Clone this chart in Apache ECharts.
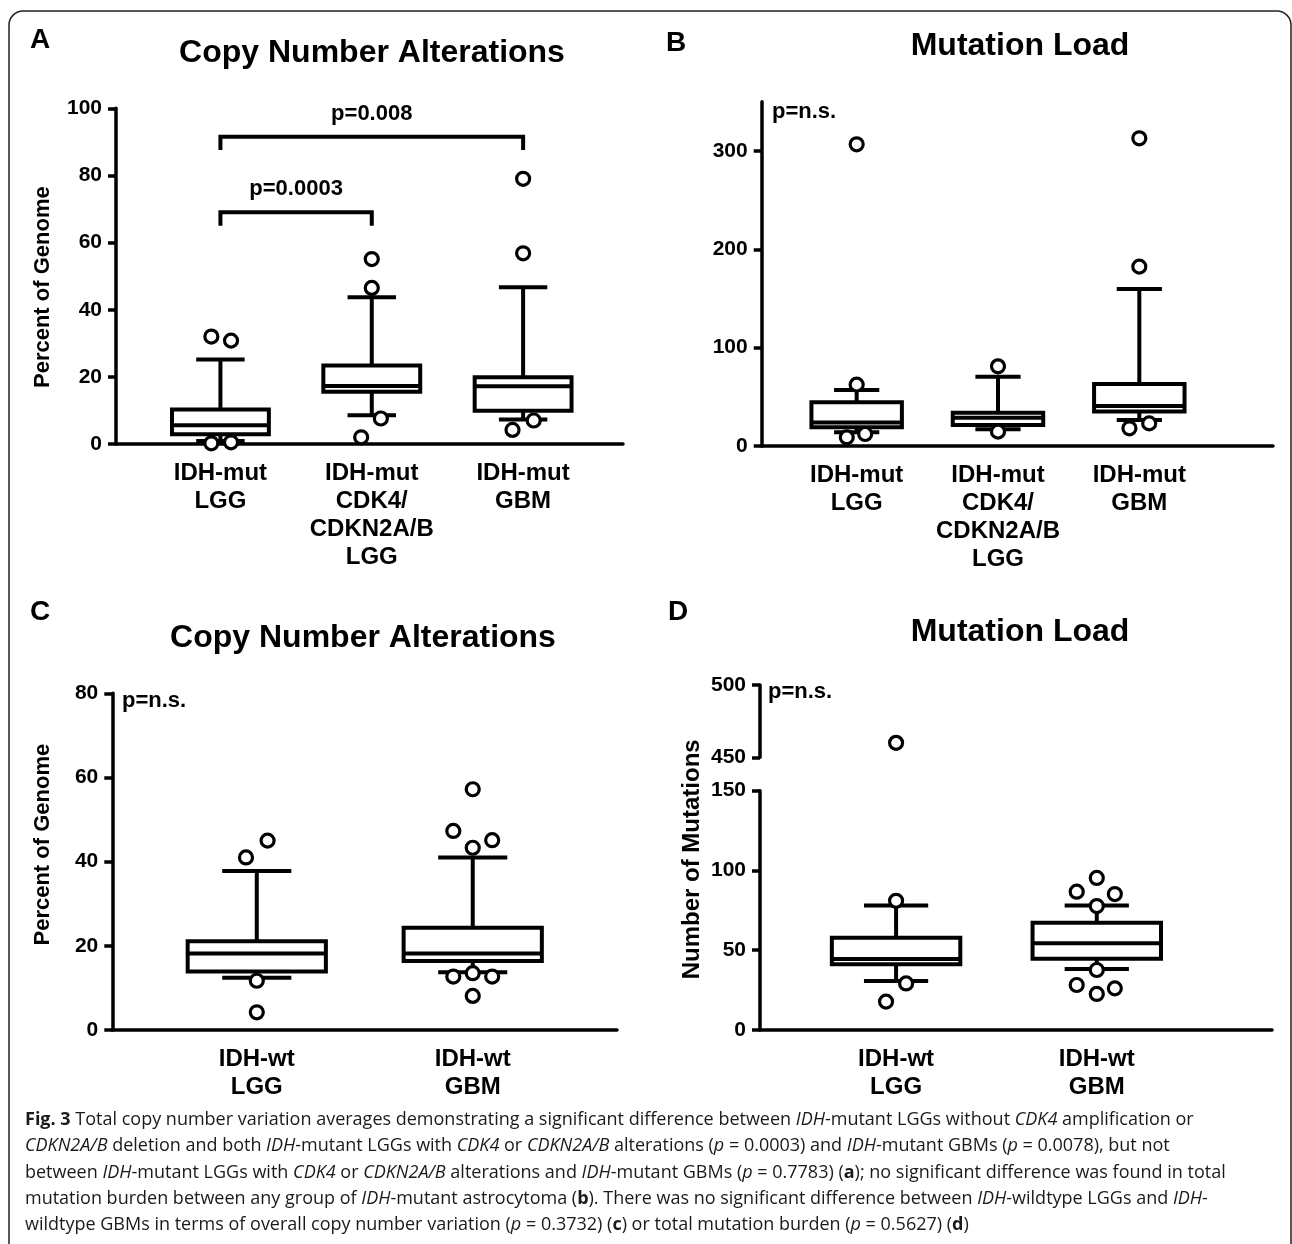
<!DOCTYPE html>
<html><head><meta charset="utf-8">
<script src="https://cdn.jsdelivr.net/npm/echarts@6/dist/echarts.min.js"></script>
<style>html,body{margin:0;padding:0;background:#fff}#c{width:1292px;height:1244px}</style>
</head><body><div id="c"></div>
<script>
// ---------- data ----------
// box values: [min whisker, Q1, median, Q3, max whisker]
const catsA = ['IDH-mut\nLGG', 'IDH-mut\nCDK4/\nCDKN2A/B\nLGG', 'IDH-mut\nGBM'];
const boxA = [[0.9, 2.9, 5.6, 10.3, 25.2], [8.6, 15.6, 17.3, 23.4, 43.7], [7.3, 9.9, 17.2, 19.9, 46.7]];
const outA = [[-0.06, 32], [0.07, 30.8], [-0.06, 0.2], [0.07, 0.5], [1, 55.1], [1, 46.5], [1.06, 7.6], [0.93, 2.0], [2, 79], [2, 56.8], [1.93, 4.2], [2.07, 7.0]];
const ticksA = [0, 20, 40, 60, 80, 100];
const bracketPairs = [[0, 1], [0, 2]];
const bracketTop = [69, 91.5];
const bracketLeg = [65, 87.6];
const bracketText = ['p=0.0003', 'p=0.008'];

const catsB = ['IDH-mut\nLGG', 'IDH-mut\nCDK4/\nCDKN2A/B\nLGG', 'IDH-mut\nGBM'];
const boxB = [[13.9, 19.0, 24, 44.4, 57], [17, 21.4, 28.8, 33.9, 70.5], [26.4, 35, 40.7, 63, 159.7]];
const outB = [[0, 306.8], [0, 62.4], [-0.07, 8.8], [0.06, 12.2], [1, 81], [1, 14.6], [2, 312.9], [2, 182.4], [1.93, 18], [2.07, 23]];
const ticksB = [0, 100, 200, 300];

const catsC = ['IDH-wt\nLGG', 'IDH-wt\nGBM'];
const boxC = [[12.4, 13.9, 18.2, 21.1, 37.8], [13.7, 16.4, 18.2, 24.3, 41]];
const outC = [[-0.05, 41], [0.05, 45], [0, 11.7], [0, 4.2], [1, 57.2], [0.91, 47.3], [1.09, 45.1], [1, 43.3], [0.91, 12.7], [1, 13.5], [1.09, 12.7], [1, 8.1]];
const ticksC = [0, 20, 40, 60, 80];

const catsD = ['IDH-wt\nLGG', 'IDH-wt\nGBM'];
const boxD = [[30.7, 41.2, 44.5, 57.9, 78.1], [38.2, 44.7, 54.3, 67.3, 78.1]];
const outD = [[0, 81], [0.05, 29.2], [-0.05, 17.8], [1, 95.3], [0.9, 86.7], [1.09, 85.2], [1, 77.7], [1, 37.6], [0.9, 28.2], [1, 22.6], [1.09, 26.1]];
const outDHigh = [[0, 460]];
const ticksD = [0, 50, 100, 150];
const ticksDHigh = [450, 500];

// ---------- helpers ----------
const FONT = '"Liberation Sans", Arial, sans-serif';
const BLACK = '#000';
const LW = 4;

function renderBox(params, api) {
  const x = api.value(0);
  const w = api.size([0.64, 0])[0];
  const half = w / 2, cap = w / 4;
  const yMin = api.coord([x, api.value(1)])[1];
  const yQ1 = api.coord([x, api.value(2)])[1];
  const pMed = api.coord([x, api.value(3)]);
  const yQ3 = api.coord([x, api.value(4)])[1];
  const yMax = api.coord([x, api.value(5)])[1];
  const cx = pMed[0];
  const st = { stroke: BLACK, lineWidth: LW, fill: null };
  return {
    type: 'group', children: [
      { type: 'line', shape: { x1: cx, y1: yMax, x2: cx, y2: yQ3 }, style: st },
      { type: 'line', shape: { x1: cx - cap, y1: yMax, x2: cx + cap, y2: yMax }, style: st },
      { type: 'line', shape: { x1: cx, y1: yQ1, x2: cx, y2: yMin }, style: st },
      { type: 'line', shape: { x1: cx - cap, y1: yMin, x2: cx + cap, y2: yMin }, style: st },
      { type: 'rect', shape: { x: cx - half, y: yQ3, width: w, height: yQ1 - yQ3 }, style: { stroke: BLACK, lineWidth: LW, fill: '#fff' } },
      { type: 'line', shape: { x1: cx - half, y1: pMed[1], x2: cx + half, y2: pMed[1] }, style: st }
    ]
  };
}

function renderBracket(params, api) {
  const i = params.dataIndex;
  const p1 = api.coord([api.value(0), api.value(2)]);
  const p2 = api.coord([api.value(1), api.value(2)]);
  const leg = api.coord([api.value(0), api.value(3)])[1];
  return {
    type: 'group', children: [
      { type: 'polyline', shape: { points: [[p1[0], leg], [p1[0], p1[1]], [p2[0], p2[1]], [p2[0], leg]] }, style: { stroke: BLACK, lineWidth: LW, fill: null } },
      { type: 'text', x: (p1[0] + p2[0]) / 2, y: p1[1] - 23, style: { text: bracketText[i], font: 'bold 22px ' + FONT, fill: BLACK, align: 'center', verticalAlign: 'middle' } }
    ]
  };
}

function boxData(arr) { return arr.map((b, i) => [i, b[0], b[1], b[2], b[3], b[4]]); }

function xAxis(gi, min, max, cats, show) {
  return {
    type: 'value', gridIndex: gi, min: min, max: max, show: show !== false,
    axisLine: { onZero: false, lineStyle: { color: BLACK, width: 3.5 } },
    axisTick: { show: false }, splitLine: { show: false },
    axisLabel: {
      customValues: cats.map((c, i) => i),
      formatter: v => cats[Math.round(v)] || '',
      color: BLACK, fontSize: 24, fontWeight: 'bold', fontFamily: FONT, lineHeight: 28, margin: 15
    }
  };
}

function yAxis(gi, min, max, ticks, name, gap, pad) {
  const a = {
    type: 'value', gridIndex: gi, min: min, max: max,
    axisLine: { show: true, onZero: false, lineStyle: { color: BLACK, width: 3.5 } },
    axisTick: { show: true, length: 8, customValues: ticks, lineStyle: { color: BLACK, width: 3.5 } },
    splitLine: { show: false },
    axisLabel: { customValues: ticks, color: BLACK, fontSize: 21, fontWeight: 'bold', fontFamily: FONT, margin: 14 }
  };
  if (name) {
    a.name = name; a.nameLocation = 'middle'; a.nameRotate = 90; a.nameGap = gap;
    a.nameTextStyle = { color: BLACK, fontSize: name.length > 17 ? 24 : 22, fontWeight: 'bold', fontFamily: FONT, padding: pad };
  }
  return a;
}

function boxSeries(gi, arr) {
  return { type: 'custom', xAxisIndex: gi, yAxisIndex: gi, renderItem: renderBox, data: boxData(arr), z: 2, silent: true };
}
function outSeries(gi, arr) {
  return {
    type: 'scatter', xAxisIndex: gi, yAxisIndex: gi, data: arr, symbol: 'circle', symbolSize: 13, z: 5, silent: true,
    itemStyle: { color: '#fff', borderColor: BLACK, borderWidth: 3.2, opacity: 1 }
  };
}

// caption lines (rich text)
const caption = [
  '{b|Fig. 3} Total copy number variation averages demonstrating a significant difference between {i|IDH}-mutant LGGs without {i|CDK4} amplification or',
  '{i|CDKN2A/B} deletion and both {i|IDH}-mutant LGGs with {i|CDK4} or {i|CDKN2A/B} alterations ({i|p} = 0.0003) and {i|IDH}-mutant GBMs ({i|p} = 0.0078), but not',
  'between {i|IDH}-mutant LGGs with {i|CDK4} or {i|CDKN2A/B} alterations and {i|IDH}-mutant GBMs ({i|p} = 0.7783) ({b|a}); no significant difference was found in total',
  'mutation burden between any group of {i|IDH}-mutant astrocytoma ({b|b}). There was no significant difference between {i|IDH}-wildtype LGGs and {i|IDH}-',
  'wildtype GBMs in terms of overall copy number variation ({i|p} = 0.3732) ({b|c}) or total mutation burden ({i|p} = 0.5627) ({b|d})'
];
const capFont = '"Open Sans", "Noto Sans", sans-serif';
const CAP = 18;
const capRich = {
  b: { fontWeight: 'bold', fontFamily: capFont, fontSize: CAP, fill: '#1a1a1a' },
  i: { fontStyle: 'italic', fontFamily: capFont, fontSize: CAP, fill: '#1a1a1a' }
};

const graphics = [
  { type: 'rect', shape: { x: 9, y: 11, width: 1282, height: 1300, r: 14 }, style: { fill: null, stroke: '#222', lineWidth: 1.5 }, z: 0 },
  { type: 'text', x: 40, y: 40, style: { text: 'A', font: 'bold 28px ' + FONT, fill: BLACK, align: 'center', verticalAlign: 'middle' } },
  { type: 'text', x: 676, y: 43, style: { text: 'B', font: 'bold 28px ' + FONT, fill: BLACK, align: 'center', verticalAlign: 'middle' } },
  { type: 'text', x: 40, y: 612, style: { text: 'C', font: 'bold 28px ' + FONT, fill: BLACK, align: 'center', verticalAlign: 'middle' } },
  { type: 'text', x: 678, y: 612, style: { text: 'D', font: 'bold 28px ' + FONT, fill: BLACK, align: 'center', verticalAlign: 'middle' } },
  { type: 'text', x: 372, y: 53, style: { text: 'Copy Number Alterations', font: 'bold 32px ' + FONT, fill: BLACK, align: 'center', verticalAlign: 'middle' } },
  { type: 'text', x: 1020, y: 46, style: { text: 'Mutation Load', font: 'bold 32px ' + FONT, fill: BLACK, align: 'center', verticalAlign: 'middle' } },
  { type: 'text', x: 363, y: 638, style: { text: 'Copy Number Alterations', font: 'bold 32px ' + FONT, fill: BLACK, align: 'center', verticalAlign: 'middle' } },
  { type: 'text', x: 1020, y: 632, style: { text: 'Mutation Load', font: 'bold 32px ' + FONT, fill: BLACK, align: 'center', verticalAlign: 'middle' } },
  { type: 'text', x: 772, y: 112, style: { text: 'p=n.s.', font: 'bold 22px ' + FONT, fill: BLACK, align: 'left', verticalAlign: 'middle' } },
  { type: 'text', x: 122, y: 701, style: { text: 'p=n.s.', font: 'bold 22px ' + FONT, fill: BLACK, align: 'left', verticalAlign: 'middle' } },
  { type: 'text', x: 768, y: 692, style: { text: 'p=n.s.', font: 'bold 22px ' + FONT, fill: BLACK, align: 'left', verticalAlign: 'middle' } }
];
caption.forEach((line, k) => {
  graphics.push({ type: 'text', x: 25, y: 1120 + k * 26.2, style: { text: line, font: CAP + 'px ' + capFont, fill: '#1a1a1a', align: 'left', verticalAlign: 'middle', rich: capRich } });
});

const option = {
  animation: false,
  backgroundColor: '#fff',
  grid: [
    { left: 116, top: 108.3, width: 507, height: 335.7 },
    { left: 761.7, top: 101.8, width: 511.3, height: 344.2 },
    { left: 112.3, top: 693.3, width: 504.7, height: 336.7 },
    { left: 760, top: 790.7, width: 512, height: 239.3 },
    { left: 760, top: 685, width: 512, height: 72.3 }
  ],
  xAxis: [
    xAxis(0, -0.69, 2.66, catsA),
    xAxis(1, -0.672, 2.946, catsB),
    xAxis(2, -0.669, 1.668, catsC),
    xAxis(3, -0.678, 1.873, catsD),
    xAxis(4, -0.678, 1.873, catsD, false)
  ],
  yAxis: [
    yAxis(0, 0, 100, ticksA, 'Percent of Genome', 62, [0, 22, 0, 0]),
    yAxis(1, 0, 350, ticksB),
    yAxis(2, 0, 80, ticksC, 'Percent of Genome', 58, [0, 0, 0, 34]),
    yAxis(3, 0, 150, ticksD, 'Number of Mutations', 56, [0, 0, 0, 102]),
    yAxis(4, 450, 500, ticksDHigh)
  ],
  series: [
    boxSeries(0, boxA), outSeries(0, outA),
    {
      type: 'custom', xAxisIndex: 0, yAxisIndex: 0, renderItem: renderBracket, silent: true, z: 3,
      data: bracketPairs.map((p, i) => [p[0], p[1], bracketTop[i], bracketLeg[i]])
    },
    boxSeries(1, boxB), outSeries(1, outB),
    boxSeries(2, boxC), outSeries(2, outC),
    boxSeries(3, boxD), outSeries(3, outD),
    outSeries(4, outDHigh)
  ],
  graphic: graphics
};

const chart = echarts.init(document.getElementById('c'), null, { renderer: 'canvas' });
chart.setOption(option);
</script>
</body></html>
